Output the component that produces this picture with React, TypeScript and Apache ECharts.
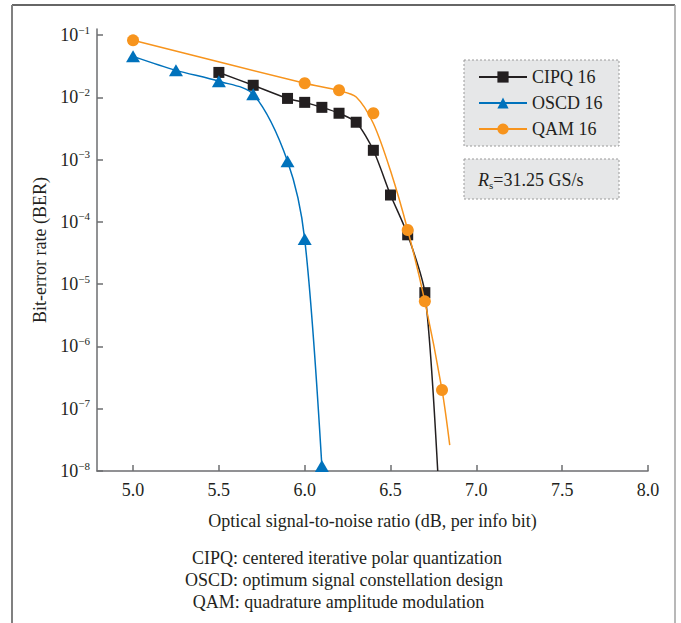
import React, { useEffect, useRef } from "react";
import * as echarts from "echarts";

// ---- data ----
const xTicks = [5.0, 5.5, 6.0, 6.5, 7.0, 7.5, 8.0];

// CIPQ 16 (black squares); last point is where the line leaves the plot
const cipqX = [5.5, 5.7, 5.9, 6.0, 6.1, 6.2, 6.3, 6.4, 6.5, 6.6, 6.7];
const cipqY = [0.0251, 0.0156, 0.0096, 0.0083, 0.0069, 0.00555, 0.00398, 0.00141, 2.7e-4, 6.2e-5, 7.3e-6];
const cipqEnd = [6.775, 1e-8];

// OSCD 16 (blue triangles)
const oscdX = [5.0, 5.25, 5.5, 5.7, 5.9, 6.0, 6.1];
const oscdY = [0.0455, 0.0271, 0.0181, 0.0112, 9.4e-4, 5.3e-5, 1.2e-8];

// QAM 16 (orange circles) markers
const qamX = [5.0, 6.0, 6.2, 6.4, 6.6, 6.7, 6.8];
const qamY = [0.0822, 0.0168, 0.013, 0.00555, 7.4e-5, 5.3e-6, 2.0e-7];
// QAM 16 fitted curve
const qamCurveX = [5.0, 6.0, 6.2, 6.3, 6.4, 6.5, 6.6, 6.7, 6.8, 6.845];
const qamCurveY = [0.0822, 0.0168, 0.0128, 0.0101, 0.0038, 6.6e-4, 7.4e-5, 5.3e-6, 2.0e-7, 2.6e-8];

const captions = [
  "CIPQ: centered iterative polar quantization",
  "OSCD: optimum signal constellation design",
  "QAM: quadrature amplitude modulation",
];

const FONT = "'Liberation Serif', 'DejaVu Serif', serif";
const TXT = "#231f20";
const AXIS = "#6d6e71";
const C_BLACK = "#231f20";
const C_BLUE = "#0072bc";
const C_ORANGE = "#f7941d";

const zip = (xs: number[], ys: number[]) => xs.map((x, i) => [x, ys[i]]);

export default function App() {
  const ref = useRef<HTMLDivElement>(null);
  useEffect(() => {
    if (!ref.current) return;
    const chart = echarts.init(ref.current, undefined, { renderer: "svg" });
    const option: any = {
      animation: false,
      backgroundColor: "#ffffff",
      textStyle: { fontFamily: FONT, color: TXT },
      grid: { left: 97, right: 33, top: 29, bottom: 152, containLabel: false },
      legend: {
        data: ["CIPQ 16", "OSCD 16", "QAM 16"],
        orient: "vertical",
        left: 478,
        top: 68,
        padding: 0,
        itemWidth: 48,
        itemHeight: 14,
        itemGap: 8,
        z: 10,
        textStyle: { fontFamily: FONT, fontSize: 18, lineHeight: 18, color: TXT },
      },
      xAxis: {
        type: "value",
        min: 4.79,
        max: 8.0,
        name: "Optical signal-to-noise ratio (dB, per info bit)",
        nameLocation: "middle",
        nameGap: 41,
        nameTextStyle: { fontFamily: FONT, fontSize: 18, color: TXT },
        axisLine: { lineStyle: { color: AXIS, width: 1.5 } },
        axisTick: { inside: true, length: 6, customValues: xTicks, lineStyle: { color: AXIS, width: 1.5 } },
        axisLabel: {
          customValues: xTicks,
          formatter: (v: number) => v.toFixed(1),
          fontFamily: FONT,
          fontSize: 18,
          color: TXT,
          margin: 10,
        },
        splitLine: { show: false },
      },
      yAxis: {
        type: "log",
        logBase: 10,
        min: 1e-8,
        max: 0.125,
        name: "Bit-error rate (BER)",
        nameLocation: "middle",
        nameGap: 46,
        nameTextStyle: { fontFamily: FONT, fontSize: 18, color: TXT },
        axisLine: { lineStyle: { color: AXIS, width: 1.5 } },
        axisTick: { inside: true, length: 6, lineStyle: { color: AXIS, width: 1.5 } },
        axisLabel: {
          margin: 7,
          showMaxLabel: false,
          formatter: (v: number) => {
            const l = Math.log10(v);
            const e = Math.round(l);
            if (Math.abs(l - e) > 1e-6) return "";
            return `{b|10}{s|\u2212${-e}}`;
          },
          rich: {
            b: { fontFamily: FONT, fontSize: 18, color: TXT, lineHeight: 22 },
            s: { fontFamily: FONT, fontSize: 11, color: TXT, lineHeight: 10, verticalAlign: "top" },
          },
        },
        splitLine: { show: false },
      },
      graphic: [
        // frame
        { type: "line", shape: { x1: 12, y1: 5, x2: 675, y2: 5 }, style: { stroke: "#333333", lineWidth: 1.5 }, z: 1 },
        { type: "line", shape: { x1: 12, y1: 5, x2: 12, y2: 623 }, style: { stroke: "#808080", lineWidth: 2 }, z: 1 },
        { type: "line", shape: { x1: 675, y1: 5, x2: 675, y2: 623 }, style: { stroke: "#a0a0a0", lineWidth: 1.5 }, z: 1 },
        // legend box
        {
          type: "rect",
          shape: { x: 464, y: 60, width: 155, height: 86 },
          style: { fill: "#e6e7e8", stroke: "#9a9a9a", lineWidth: 1, lineDash: [2, 2] },
          z: 0,
        },
        // info box
        {
          type: "rect",
          shape: { x: 464, y: 159, width: 155, height: 40 },
          style: { fill: "#e6e7e8", stroke: "#9a9a9a", lineWidth: 1, lineDash: [2, 2] },
          z: 0,
        },
        {
          type: "text",
          x: 478,
          y: 180,
          z: 5,
          style: {
            text: "{i|R}{sub|s}{n|=31.25 GS/s}",
            verticalAlign: "middle",
            textAlign: "left",
            rich: {
              i: { fontFamily: FONT, fontSize: 18, fontStyle: "italic", fill: TXT, lineHeight: 20 },
              sub: { fontFamily: FONT, fontSize: 11, fill: TXT, lineHeight: 8, verticalAlign: "bottom" },
              n: { fontFamily: FONT, fontSize: 18, fill: TXT, lineHeight: 20 },
            },
          },
        },
        // captions
        ...captions.map((c, i) => ({
          type: "text",
          x: [347, 344, 338.5][i],
          y: [558, 580, 602][i],
          z: 5,
          style: {
            text: c,
            fontFamily: FONT,
            fontSize: 18,
            fill: TXT,
            textAlign: "center",
            textVerticalAlign: "middle",
            verticalAlign: "middle",
          },
        })),
      ],
      series: [
        {
          name: "CIPQ 16",
          type: "line",
          smooth: 0.25,
          symbol: "rect",
          symbolSize: 11,
          lineStyle: { color: C_BLACK, width: 1.5 },
          itemStyle: { color: C_BLACK },
          data: [...zip(cipqX, cipqY), { value: cipqEnd, symbol: "none" }],
          z: 2,
        },
        {
          name: "OSCD 16",
          type: "line",
          smooth: 0.3,
          symbol: "triangle",
          symbolSize: [14, 12],
          lineStyle: { color: C_BLUE, width: 1.5 },
          itemStyle: { color: C_BLUE },
          data: zip(oscdX, oscdY),
          z: 3,
        },
        {
          name: "QAM 16",
          type: "line",
          smooth: 0.3,
          symbol: "circle",
          showSymbol: false,
          lineStyle: { color: C_ORANGE, width: 1.5 },
          itemStyle: { color: C_ORANGE },
          data: zip(qamCurveX, qamCurveY),
          z: 4,
        },
        {
          name: "QAM 16 markers",
          type: "scatter",
          symbol: "circle",
          symbolSize: 12,
          itemStyle: { color: C_ORANGE, opacity: 1 },
          data: zip(qamX, qamY),
          z: 5,
        },
      ],
    };
    chart.setOption(option);
    return () => chart.dispose();
  }, []);
  return (
    <div
      ref={ref}
      style={{ position: "fixed", left: 0, top: 0, width: 681, height: 623, background: "#fff" }}
    />
  );
}
